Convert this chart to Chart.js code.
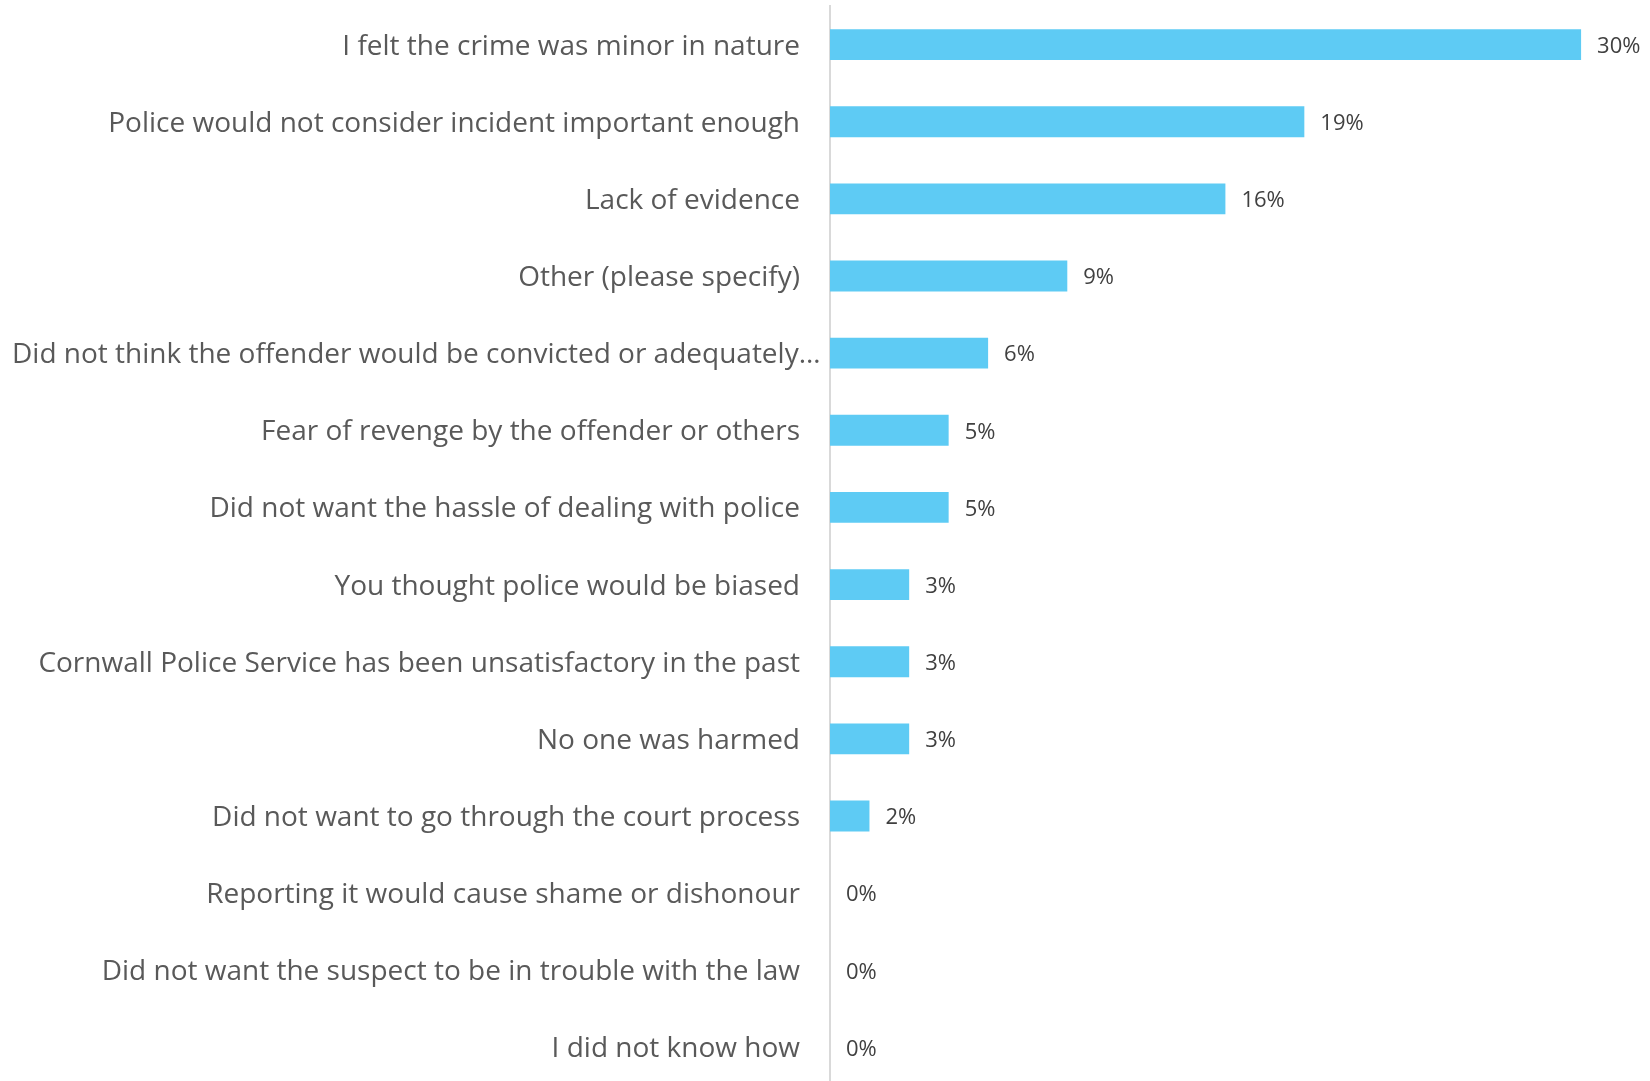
<!DOCTYPE html>
<html>
<head>
<meta charset="utf-8">
<title>Reasons for not reporting</title>
<script src="https://cdn.jsdelivr.net/npm/chart.js@4/dist/chart.umd.min.js"></script>
<style>
  html, body { margin: 0; padding: 0; background: #ffffff; overflow: hidden; }
  #chartBox { position: absolute; left: 0; top: 0; width: 1650px; height: 1086px; }
</style>
</head>
<body>
<div id="chartBox"><canvas id="barChart"></canvas></div>
<script>
// Categories, top to bottom
const reasons = [
  'I felt the crime was minor in nature',
  'Police would not consider incident important enough',
  'Lack of evidence',
  'Other (please specify)',
  'Did not think the offender would be convicted or adequately\u2026',
  'Fear of revenge by the offender or others',
  'Did not want the hassle of dealing with police',
  'You thought police would be biased',
  'Cornwall Police Service has been unsatisfactory in the past',
  'No one was harmed',
  'Did not want to go through the court process',
  'Reporting it would cause shame or dishonour',
  'Did not want the suspect to be in trouble with the law',
  'I did not know how'
];

// Share of respondents (%)
const shares = [29.69, 18.75, 15.63, 9.38, 6.25, 4.69, 4.69, 3.13, 3.13, 3.13, 1.56, 0, 0, 0];

const barColor = '#5ECBF4';
const labelColor = '#595959';
const valueColor = '#404040';

// Draw category labels (right aligned, long ones pushed in from the left edge)
const categoryLabels = {
  id: 'categoryLabels',
  afterDraw(chart) {
    const ctx = chart.ctx;
    const yScale = chart.scales.y;
    ctx.save();
    ctx.font = '28px "Open Sans"';
    ctx.fillStyle = labelColor;
    ctx.textAlign = 'left';
    ctx.textBaseline = 'middle';
    reasons.forEach((text, i) => {
      const w = ctx.measureText(text).width;
      let x = yScale.right - 30 - w;
      if (x < 12) x = 12;
      ctx.fillText(text, x, yScale.getPixelForTick(i) + 2);
    });
    ctx.restore();
  }
};

// Value labels at the end of each bar
const valueLabels = {
  id: 'valueLabels',
  afterDatasetsDraw(chart) {
    const ctx = chart.ctx;
    const meta = chart.getDatasetMeta(0);
    ctx.save();
    ctx.font = '22px "Open Sans"';
    ctx.fillStyle = valueColor;
    ctx.textAlign = 'left';
    ctx.textBaseline = 'middle';
    meta.data.forEach((bar, i) => {
      ctx.fillText(Math.round(shares[i]) + '%', bar.x + 16, bar.y + 2);
    });
    ctx.restore();
  }
};

document.addEventListener('DOMContentLoaded', function() {
  const ctx = document.getElementById('barChart').getContext('2d');

  new Chart(ctx, {
    type: 'bar',
    data: {
      labels: reasons,
      datasets: [{
        data: shares,
        backgroundColor: barColor,
        borderWidth: 0,
        categoryPercentage: 0.8,
        barPercentage: 0.5
      }]
    },
    options: {
      indexAxis: 'y',
      responsive: true,
      maintainAspectRatio: false,
      animation: false,
      layout: {
        padding: { top: 6, right: 13, bottom: 0, left: 0 }
      },
      scales: {
        x: {
          display: false,
          min: 0,
          max: 31.9
        },
        y: {
          grid: { display: false, drawTicks: false },
          border: { display: true, color: '#D9D9D9', width: 2 },
          ticks: { display: false },
          afterFit: function(scale) {
            scale.width = 830;
          }
        }
      },
      plugins: {
        legend: { display: false },
        tooltip: { enabled: false }
      }
    },
    plugins: [categoryLabels, valueLabels]
  });
});
</script>
</body>
</html>
